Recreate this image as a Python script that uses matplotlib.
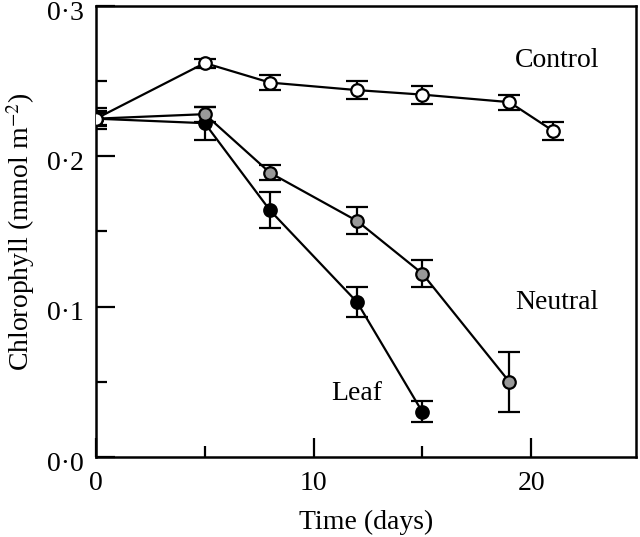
import matplotlib
matplotlib.use('Agg')
import matplotlib.pyplot as plt
from matplotlib.ticker import FuncFormatter
from matplotlib.transforms import ScaledTranslation

# data
control_days = [0, 5, 8, 12, 15, 19, 21]
control_chl = [0.225, 0.262, 0.249, 0.244, 0.241, 0.236, 0.217]
control_err = [0.005, 0.003, 0.005, 0.006, 0.006, 0.005, 0.006]

neutral_days = [0, 5, 8, 12, 15, 19]
neutral_chl = [0.225, 0.228, 0.189, 0.157, 0.122, 0.050]
neutral_err = [0.004, 0.005, 0.005, 0.009, 0.009, 0.020]

leaf_days = [0, 5, 8, 12, 15]
leaf_chl = [0.225, 0.222, 0.164, 0.103, 0.030]
leaf_err = [0.007, 0.011, 0.012, 0.010, 0.007]

plt.rcParams['font.family'] = ['Liberation Serif', 'DejaVu Serif']
plt.rcParams['mathtext.fontset'] = 'stix'

fig = plt.figure(figsize=(6.4, 5.37), dpi=100)
ax = fig.add_axes([0.15, 0.149, 0.843, 0.84])

style = dict(color='black', lw=1.6, ms=9, mec='black', mew=1.6,
             capsize=8, capthick=1.6, elinewidth=1.6)
ax.errorbar(leaf_days, leaf_chl, yerr=leaf_err, marker='o', mfc='black', zorder=3, **style)
ax.errorbar(neutral_days, neutral_chl, yerr=neutral_err, marker='o', mfc='#999999', zorder=4, **style)
ax.errorbar(control_days, control_chl, yerr=control_err, marker='o', mfc='white', zorder=5, **style)

ax.text(21.2, 0.264, 'Control', fontsize=20, ha='center', va='center')
ax.text(21.2, 0.103, 'Neutral', fontsize=20, ha='center', va='center')
ax.text(12.0, 0.042, 'Leaf', fontsize=20, ha='center', va='center')

ax.set_xlim(0, 24.8)
ax.set_ylim(0, 0.3)
ax.set_xticks([0, 10, 20])
ax.set_xticks([5, 15], minor=True)
ax.set_yticks([0, 0.1, 0.2, 0.3])
ax.set_yticks([0.05, 0.15, 0.25], minor=True)
ax.yaxis.set_major_formatter(FuncFormatter(lambda v, p: f'{v:.1f}'.replace('.', '\u00b7')))
ax.tick_params(which='major', direction='in', length=14, width=1.6, labelsize=20)
ax.tick_params(axis='x', which='major', pad=10)
ax.tick_params(axis='y', which='major', pad=9)
ax.tick_params(which='minor', direction='in', length=8, width=1.6)
for s in ax.spines.values():
    s.set_linewidth(1.8)

# y tick labels sit a little below their ticks in the original
shift = ScaledTranslation(0, -3 / 72, fig.dpi_scale_trans)
for lab in ax.get_yticklabels():
    lab.set_transform(lab.get_transform() + shift)

ax.set_xlabel('Time (days)', fontsize=20, labelpad=10)
ax.set_ylabel('Chlorophyll (mmol m$^{-2}$)', fontsize=20, labelpad=7)

fig.savefig('out.png', dpi=100)
